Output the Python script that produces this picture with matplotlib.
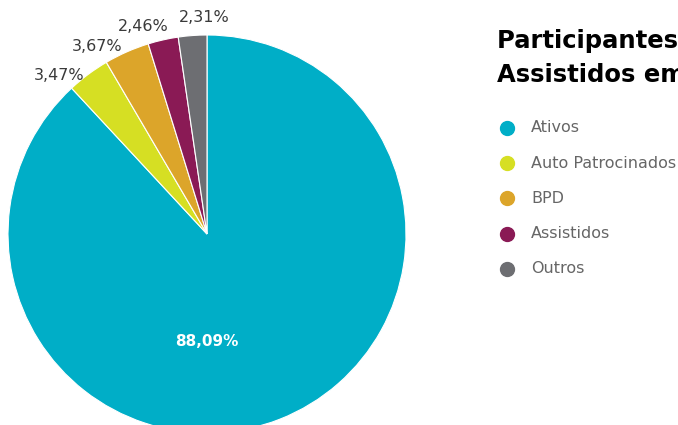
import numpy as np
import matplotlib
matplotlib.use("Agg")
import matplotlib.pyplot as plt
from matplotlib.lines import Line2D

categories = ["Ativos", "Auto Patrocinados", "BPD", "Assistidos", "Outros"]
values = [88.09, 3.47, 3.67, 2.46, 2.31]
labels = ["88,09%", "3,47%", "3,67%", "2,46%", "2,31%"]
colors = ["#00AEC7", "#D6DF23", "#DCA52A", "#8A1A55", "#6D6E72"]
title_lines = ["Participantes e", "Assistidos em 2023"]

W, H = 678, 425
fig = plt.figure(figsize=(W / 100, H / 100), dpi=100)
fig.patch.set_facecolor("white")

cx, cy, R = 207, 425 - 234, 199
ax = fig.add_axes([(cx - R) / W, (cy - R) / H, 2 * R / W, 2 * R / H])
wedges, _ = ax.pie(values, colors=colors, startangle=90, counterclock=False,
                   radius=1.0, wedgeprops=dict(edgecolor="white", linewidth=0.8))
ax.set_xlim(-1, 1)
ax.set_ylim(-1, 1)
ax.set_aspect("equal")
ax.axis("off")

font = "DejaVu Sans"

# big slice label
ax.text(0, -0.54, labels[0], ha="center", va="center", color="white",
        fontsize=11, fontweight="bold", family=font)

# small slice labels, placed just outside the slice's leading edge
total = sum(values)
cum = np.cumsum([0] + values)
prev_ang = None
for i in range(1, len(values)):
    lead_edge = (90 - 360 * cum[i] / total) % 360
    trail_edge = (90 - 360 * cum[i + 1] / total) % 360
    ang = lead_edge
    if prev_ang is not None and abs(prev_ang - ang) < 12:
        ang = trail_edge + 0.7
    prev_ang = ang
    r = 1.09
    ax.text(r * np.cos(np.radians(ang)), r * np.sin(np.radians(ang)), labels[i],
            ha="center", va="center", color="#3a3a3a", fontsize=11.5,
            family=font, clip_on=False)

# title
fig.text(497 / W, 1 - 48 / H, title_lines[0], ha="left", va="baseline",
         fontsize=17.5, fontweight="bold", family=font, color="black")
fig.text(497 / W, 1 - 82 / H, title_lines[1], ha="left", va="baseline",
         fontsize=17.5, fontweight="bold", family=font, color="black")

# legend
for i, (cat, col) in enumerate(zip(categories, colors)):
    y = 1 - (128 + 35.2 * i) / H
    fig.add_artist(Line2D([507 / W], [y], marker="o", markersize=10,
                          color=col, linestyle="none", transform=fig.transFigure))
    fig.text(531 / W, y, cat, ha="left", va="center", fontsize=11.5,
             fontweight="normal", family=font, color="#666666")

fig.savefig("out.png", dpi=100, facecolor="white")
